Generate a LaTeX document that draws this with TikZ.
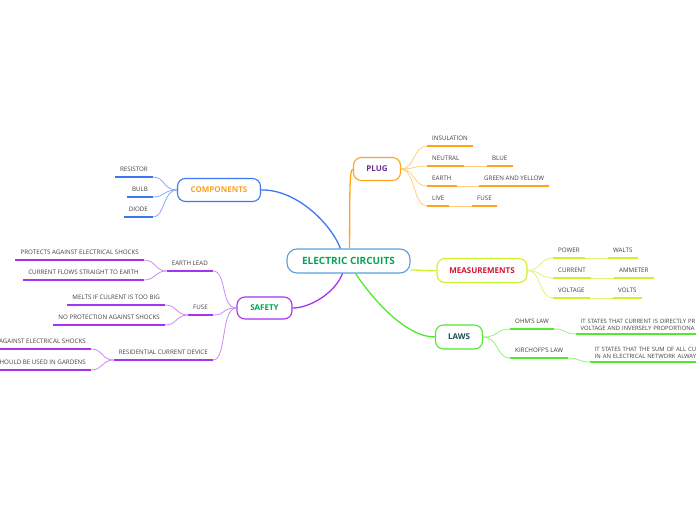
\documentclass[tikz,border=0pt]{standalone}
\usepackage{fontspec}
\setmainfont{Open Sans}
\definecolor{cblue}{HTML}{3B78F2}
\definecolor{cbluel}{HTML}{86A9F5}
\definecolor{corange}{HTML}{FFA31A}
\definecolor{corangel}{HTML}{FFCC80}
\definecolor{clime}{HTML}{CCF22C}
\definecolor{climel}{HTML}{DDF57A}
\definecolor{cgreen}{HTML}{52E830}
\definecolor{cgreenl}{HTML}{98F080}
\definecolor{cpurple}{HTML}{A633EE}
\definecolor{cpurplel}{HTML}{C88CF5}
\definecolor{ccenter}{HTML}{5A9FDA}
\definecolor{tgreen}{HTML}{00A651}
\definecolor{tpurple}{HTML}{6A2C91}
\definecolor{torange}{HTML}{F5A623}
\definecolor{tred}{HTML}{D0163A}
\definecolor{tteal}{HTML}{1D4F4F}
\tikzset{
  topic/.style={draw, line width=1.1pt, rounded corners=8pt, fill=white,
    minimum height=23pt, inner xsep=0pt, font=\fontsize{8}{9}\selectfont\bfseries},
  centertopic/.style={topic, rounded corners=10pt, minimum height=24pt,
    font=\fontsize{10}{11}\selectfont\bfseries},
  leaf/.style={font=\fontsize{6.2}{7.5}\selectfont, text=black!75, inner xsep=5pt,
    inner ysep=5.3pt, text height=4.5pt, text depth=0pt,
    append after command={\pgfextra{\let\LN\tikzlastnode
      \draw[line width=1.6pt, #1] (\LN.south west) -- (\LN.south east);}}},
  longleaf/.style={font=\fontsize{5.9}{7.3}\selectfont, text=black!75, inner xsep=4.5pt,
    inner ysep=3pt, align=left, text width=125pt,
    append after command={\pgfextra{\let\LN\tikzlastnode
      \draw[line width=1.6pt, #1] (\LN.south west) -- (\LN.south east);}}},
  mainlink/.style={line width=1.3pt},
  sublink/.style={line width=0.8pt},
}
\begin{document}
\begin{tikzpicture}[x=1pt,y=-1pt]
\useasboundingbox (0,0) rectangle (696,520);

% main topics
\node[centertopic, draw=ccenter, text=tgreen, minimum width=123pt] (ec) at (348.5,261) {ELECTRIC CIRCUITS};
\node[topic, draw=corange, text=tpurple, minimum width=47pt] (plug) at (377,169) {PLUG};
\node[topic, draw=cblue, text=torange, minimum width=83pt] (comp) at (219,190) {COMPONENTS};
\node[topic, draw=clime, text=tred, minimum width=90pt, minimum height=24pt] (meas) at (482,270.5) {MEASUREMENTS};
\node[topic, draw=cgreen, text=tteal, minimum width=47pt, minimum height=24pt] (laws) at (459,337) {LAWS};
\node[topic, draw=cpurple, text=tgreen, minimum width=55pt, minimum height=22pt] (safety) at (264.5,308) {SAFETY};

% main connectors
\draw[mainlink, cblue] (comp.east) .. controls (295,189) and (330,222) .. ([xshift=-8pt]ec.north);
\draw[mainlink, corange] ([xshift=1pt]ec.north) .. controls (350,200) and (349,169) .. (plug.west);
\draw[mainlink, clime] ([yshift=-9pt]ec.east) .. controls (420,270) and (425,271) .. (meas.west);
\draw[mainlink, cgreen] ([xshift=7pt]ec.south) .. controls (372,298) and (405,337) .. (laws.west);
\draw[mainlink, cpurple] ([xshift=-6pt]ec.south) .. controls (335,293) and (310,308) .. (safety.east);

% PLUG
\node[leaf=corange, anchor=south west] (ins) at (427,146) {INSULATION};
\node[leaf=corange, anchor=south west] (neu) at (427,166) {NEUTRAL};
\node[leaf=corange, anchor=south west] (blue) at (487,166) {BLUE};
\node[leaf=corange, anchor=south west] (earth) at (427,186) {EARTH};
\node[leaf=corange, anchor=south west] (gy) at (479,186) {GREEN AND YELLOW};
\node[leaf=corange, anchor=south west] (live) at (427,206) {LIVE};
\node[leaf=corange, anchor=south west] (pfuse) at (472,206) {FUSE};
\foreach \n in {ins,neu,earth,live}
  \draw[sublink, corangel] (plug.east) .. controls +(14,0) and +(-14,0) .. (\n.south west);
\draw[sublink, corangel] (neu.south east) -- (blue.south west);
\draw[sublink, corangel] (earth.south east) -- (gy.south west);
\draw[sublink, corangel] (live.south east) -- (pfuse.south west);

% COMPONENTS
\node[leaf=cblue, anchor=south east] (res) at (153,177) {RESISTOR};
\node[leaf=cblue, anchor=south east] (bulb) at (153,197) {BULB};
\node[leaf=cblue, anchor=south east] (diode) at (153,217) {DIODE};
\foreach \n in {res,bulb,diode}
  \draw[sublink, cbluel] (comp.west) .. controls +(-14,0) and +(12,0) .. (\n.south east);

% MEASUREMENTS
\node[leaf=clime, anchor=south west] (pow) at (553,258) {POWER};
\node[leaf=clime, anchor=south west] (watts) at (608,258) {WALTS};
\node[leaf=clime, anchor=south west] (cur) at (553,278) {CURRENT};
\node[leaf=clime, anchor=south west] (amm) at (614,278) {AMMETER};
\node[leaf=clime, anchor=south west] (volt) at (553,298) {VOLTAGE};
\node[leaf=clime, anchor=south west] (volts) at (613,298) {VOLTS};
\foreach \n in {pow,cur,volt}
  \draw[sublink, climel] (meas.east) .. controls +(14,0) and +(-14,0) .. (\n.south west);
\draw[sublink, climel] (pow.south east) -- (watts.south west);
\draw[sublink, climel] (cur.south east) -- (amm.south west);
\draw[sublink, climel] (volt.south east) -- (volts.south west);

% LAWS
\node[leaf=cgreen, anchor=south west] (ohm) at (510,329) {OHM'S LAW};
\node[leaf=cgreen, anchor=south west] (kir) at (510,358) {KIRCHOFF'S LAW};
\node[longleaf=cgreen, anchor=south west] (ohmt) at (576,334) {IT STATES THAT CURRENT IS DIRECTLY PR\\VOLTAGE AND INVERSELY PROPORTIONA};
\node[longleaf=cgreen, anchor=south west] (kirt) at (590,362) {IT STATES THAT THE SUM OF ALL CU\\IN AN ELECTRICAL NETWORK ALWAY};
\foreach \n in {ohm,kir}
  \draw[sublink, cgreenl] (laws.east) .. controls +(16,0) and +(-14,0) .. (\n.south west);
\draw[sublink, cgreenl] (ohm.south east) .. controls +(12,0) and +(-12,0) .. (ohmt.south west);
\draw[sublink, cgreenl] (kir.south east) .. controls +(12,0) and +(-12,0) .. (kirt.south west);

% SAFETY
\node[leaf=cpurple, anchor=south east] (el) at (213,271) {EARTH LEAD};
\node[leaf=cpurple, anchor=south east] (sfuse) at (213,315) {FUSE};
\node[leaf=cpurple, anchor=south east] (rcd) at (213,360) {RESIDENTIAL CURRENT DEVICE};
\node[leaf=cpurple, anchor=south east] (p1) at (144,260) {PROTECTS AGAINST ELECTRICAL SHOCKS};
\node[leaf=cpurple, anchor=south east] (p2) at (144,280) {CURRENT FLOWS STRAIGHT TO EARTH};
\node[leaf=cpurple, anchor=south east] (m1) at (165,305) {MELTS IF CULRENT IS TOO BIG};
\node[leaf=cpurple, anchor=south east] (m2) at (165,325) {NO PROTECTION AGAINST SHOCKS};
\node[leaf=cpurple, anchor=south east] (r1) at (91,349) {AGAINST ELECTRICAL SHOCKS};
\node[leaf=cpurple, anchor=south east] (r2) at (91,370) {SHOULD BE USED IN GARDENS};
\foreach \n in {el,sfuse,rcd}
  \draw[sublink, cpurplel] (safety.west) .. controls +(-16,0) and +(14,0) .. (\n.south east);
\foreach \a/\b in {el/p1,el/p2,sfuse/m1,sfuse/m2,rcd/r1,rcd/r2}
  \draw[sublink, cpurplel] (\a.south west) .. controls +(-12,0) and +(12,0) .. (\b.south east);
\end{tikzpicture}
\end{document}
